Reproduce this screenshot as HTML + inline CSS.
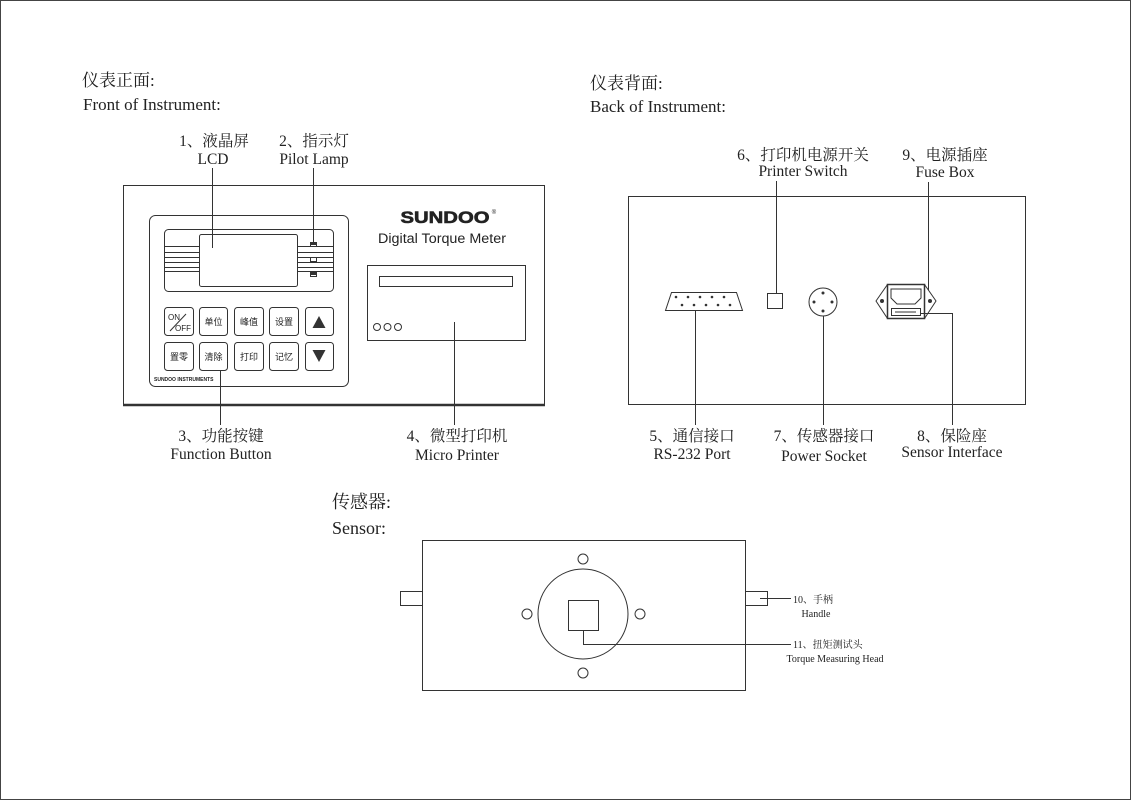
<!DOCTYPE html>
<html><head><meta charset="utf-8"><style>
html,body{margin:0;padding:0;background:#fff}
svg{display:block}
.s{font-family:"Liberation Serif","Noto Serif CJK SC",serif;fill:#222}
.a{font-family:"Liberation Sans","Noto Sans CJK SC",sans-serif;fill:#222}
</style></head><body>
<svg width="1131" height="800" viewBox="0 0 1131 800" xmlns="http://www.w3.org/2000/svg">
<rect x="0.5" y="0.5" width="1130" height="799" fill="none" stroke="#444" stroke-width="1"/>
<g fill="none" stroke="#333" stroke-width="1">
<rect x="123.5" y="185.5" width="421" height="219"/>
<line x1="123" y1="405" x2="545" y2="405" stroke-width="2.5"/>
<rect x="149.5" y="215.5" width="199" height="171" rx="6"/>
<rect x="164.5" y="229.5" width="169" height="62" rx="4"/>
<rect x="199.5" y="234.5" width="98" height="52" rx="2"/>
<g>
<line x1="164" y1="246.5" x2="199" y2="246.5"/><line x1="164" y1="252.5" x2="199" y2="252.5"/>
<line x1="164" y1="257.5" x2="199" y2="257.5"/><line x1="164" y1="262.5" x2="199" y2="262.5"/>
<line x1="164" y1="267.5" x2="199" y2="267.5"/><line x1="164" y1="271.5" x2="199" y2="271.5"/>
<line x1="297" y1="246.5" x2="333" y2="246.5"/><line x1="297" y1="252.5" x2="333" y2="252.5"/>
<line x1="297" y1="257.5" x2="333" y2="257.5"/><line x1="297" y1="262.5" x2="333" y2="262.5"/>
<line x1="297" y1="267.5" x2="333" y2="267.5"/><line x1="297" y1="271.5" x2="333" y2="271.5"/>
</g>
<rect x="310.5" y="242.5" width="6" height="4" fill="#fff"/><rect x="310.5" y="257.5" width="6" height="4" fill="#fff"/><rect x="310.5" y="272.5" width="6" height="4" fill="#fff"/>
<rect x="164.5" y="307.5" width="29" height="28" rx="3"/><rect x="199.5" y="307.5" width="28" height="28" rx="3"/>
<rect x="234.5" y="307.5" width="29" height="28" rx="3"/><rect x="269.5" y="307.5" width="29" height="28" rx="3"/>
<rect x="305.5" y="307.5" width="28" height="28" rx="3"/>
<rect x="164.5" y="342.5" width="29" height="28" rx="3"/><rect x="199.5" y="342.5" width="28" height="28" rx="3"/>
<rect x="234.5" y="342.5" width="29" height="28" rx="3"/><rect x="269.5" y="342.5" width="29" height="28" rx="3"/>
<rect x="305.5" y="342.5" width="28" height="28" rx="3"/>
<line x1="170" y1="331" x2="186" y2="314"/>
<rect x="367.5" y="265.5" width="158" height="75"/>
<rect x="379.5" y="276.5" width="133" height="10"/>
<circle cx="377" cy="327" r="3.5"/><circle cx="387.5" cy="327" r="3.5"/><circle cx="398" cy="327" r="3.5"/>
<line x1="212.5" y1="168" x2="212.5" y2="248"/>
<line x1="313.5" y1="168" x2="313.5" y2="243"/>
<line x1="220.5" y1="370" x2="220.5" y2="425"/>
<line x1="454.5" y1="322" x2="454.5" y2="425"/>
<rect x="628.5" y="196.5" width="397" height="208"/>
<path d="M671.5 292.5 H736.5 L742.5 310.5 H665.5 Z"/>
<rect x="767.5" y="293.5" width="15" height="15"/>
<circle cx="823" cy="302" r="14"/>
<path d="M876 301 L887.5 284.5 H924.5 L936 301 L924.5 318.5 H887.5 Z"/>
<rect x="887.5" y="284.5" width="37" height="34" stroke-width="1.5"/>
<path d="M891 298 L891 289 L921 289 L921 298 L915 304 L897 304 Z"/>
<rect x="891.5" y="308.5" width="29" height="7"/>
<line x1="895" y1="312" x2="916" y2="312"/>
<line x1="695.5" y1="310" x2="695.5" y2="425"/>
<line x1="776.5" y1="181" x2="776.5" y2="293"/>
<line x1="823.5" y1="316" x2="823.5" y2="425"/>
<line x1="928.5" y1="182" x2="928.5" y2="290"/>
<polyline points="920,313.5 952.5,313.5 952.5,425"/>
<rect x="422.5" y="540.5" width="323" height="150"/>
<circle cx="583" cy="614" r="45"/>
<rect x="568.5" y="600.5" width="30" height="30"/>
<circle cx="583" cy="559" r="5"/><circle cx="583" cy="673" r="5"/>
<circle cx="527" cy="614" r="5"/><circle cx="640" cy="614" r="5"/>
<rect x="400.5" y="591.5" width="22" height="14"/>
<rect x="745.5" y="591.5" width="22" height="14"/>
<line x1="760" y1="598.5" x2="791" y2="598.5"/>
<polyline points="583.5,630 583.5,644.5 791,644.5"/>
</g>
<g fill="#333">
<circle cx="676" cy="297" r="1.3"/><circle cx="688" cy="297" r="1.3"/><circle cx="700" cy="297" r="1.3"/><circle cx="712" cy="297" r="1.3"/><circle cx="724" cy="297" r="1.3"/>
<circle cx="682" cy="305" r="1.3"/><circle cx="694" cy="305" r="1.3"/><circle cx="706" cy="305" r="1.3"/><circle cx="718" cy="305" r="1.3"/><circle cx="730" cy="305" r="1.3"/>
<circle cx="823" cy="293" r="1.5"/><circle cx="823" cy="311" r="1.5"/><circle cx="814" cy="302" r="1.5"/><circle cx="832" cy="302" r="1.5"/>
<circle cx="882" cy="301" r="2"/><circle cx="930" cy="301" r="2"/>
<rect x="311" y="243" width="5" height="2"/><rect x="311" y="273" width="5" height="2"/>
<path d="M319 316 L325.5 328 L312.5 328 Z"/>
<path d="M312.5 350 L325.5 350 L319 362 Z"/>
</g>
<g class="a" font-size="9" text-anchor="middle">
<text x="174" y="320" font-size="8">ON</text><text x="183" y="331" font-size="8">OFF</text>
<text x="213.5" y="325">单位</text><text x="249" y="325">峰值</text><text x="284" y="325">设置</text>
<text x="179" y="360">置零</text><text x="213.5" y="360">清除</text><text x="249" y="360">打印</text><text x="284" y="360">记忆</text>
<text x="154" y="381" font-size="5" text-anchor="start" font-weight="bold">SUNDOO INSTRUMENTS</text>
<text x="445" y="223" font-size="17" font-weight="bold" textLength="89" lengthAdjust="spacingAndGlyphs" stroke="#222" stroke-width="0.6">SUNDOO</text>
<text x="494" y="214" font-size="6">®</text>
<text x="442" y="243" font-size="13.5" textLength="128" lengthAdjust="spacingAndGlyphs">Digital Torque Meter</text>
</g>
<g class="s" font-size="17">
<text x="82" y="86">仪表正面:</text>
<text x="83" y="110">Front of Instrument:</text>
<text x="590" y="89">仪表背面:</text>
<text x="590" y="112">Back of Instrument:</text>
<text x="332" y="508" font-size="18">传感器:</text>
<text x="332" y="534" font-size="18">Sensor:</text>
</g>
<g class="s" font-size="15.5" text-anchor="middle">
<text x="214" y="146">1、液晶屏</text><text x="213" y="164">LCD</text>
<text x="314" y="146">2、指示灯</text><text x="314" y="164">Pilot Lamp</text>
<text x="221" y="441">3、功能按键</text><text x="221" y="459">Function Button</text>
<text x="457" y="441">4、微型打印机</text><text x="457" y="460">Micro Printer</text>
<text x="803" y="160">6、打印机电源开关</text><text x="803" y="176">Printer Switch</text>
<text x="945" y="160">9、电源插座</text><text x="945" y="177">Fuse Box</text>
<text x="692" y="441">5、通信接口</text><text x="692" y="459">RS-232 Port</text>
<text x="824" y="441">7、传感器接口</text><text x="824" y="461">Power Socket</text>
<text x="952" y="441">8、保险座</text><text x="952" y="457">Sensor Interface</text>
</g>
<g class="s" font-size="10">
<text x="793" y="603">10、手柄</text>
<text x="816" y="617" text-anchor="middle">Handle</text>
<text x="793" y="648">11、扭矩测试头</text>
<text x="835" y="662" text-anchor="middle">Torque Measuring Head</text>
</g>
</svg>
</body></html>
